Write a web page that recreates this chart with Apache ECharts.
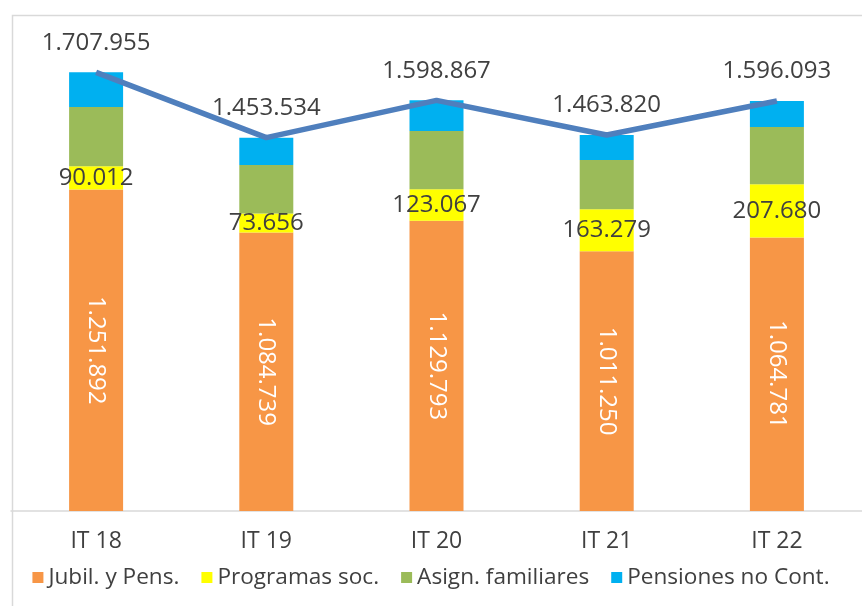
<!DOCTYPE html>
<html>
<head>
<meta charset="utf-8">
<script src="https://cdn.jsdelivr.net/npm/echarts@6/dist/echarts.min.js"></script>
<style>
  html, body { margin: 0; padding: 0; background: #fff; }
  #chart { width: 862px; height: 606px; }
</style>
</head>
<body>
<div id="chart"></div>
<script>
// datos
var categorias = ['IT 18', 'IT 19', 'IT 20', 'IT 21', 'IT 22'];
var jubilaciones = [1251892, 1084739, 1129793, 1011250, 1064781];
var programas = [90012, 73656, 123067, 163279, 207680];
var asignaciones = [230900, 188600, 226500, 191900, 222500];
var pensionesNC = [135150, 106500, 119500, 97400, 101100];
var totales = [1707955, 1453534, 1598867, 1463820, 1596093];

var fuente = 'Open Sans';
var colorTexto = '#404040';

// separador de miles con punto
function miles(v) {
    return String(Math.round(v)).replace(/\B(?=(\d{3})+(?!\d))/g, '.');
}

var chart = echarts.init(document.getElementById('chart'));

var option = {
    animation: false,
    textStyle: { fontFamily: fuente },
    graphic: [{
        type: 'rect',
        left: 10, top: 13,
        shape: { width: 880, height: 640 },
        style: { fill: 'none', stroke: '#d9d9d9', lineWidth: 1.5 },
        silent: true
    }],
    grid: { left: 11, right: -4, top: 23, bottom: 95 },
    legend: {
        bottom: 12,
        left: 'center',
        itemWidth: 11,
        itemHeight: 11,
        itemGap: 22,
        icon: 'rect',
        textStyle: { fontFamily: fuente, fontSize: 22.6, color: colorTexto },
        data: ['Jubil. y Pens.', 'Programas soc.', 'Asign. familiares', 'Pensiones no Cont.']
    },
    xAxis: {
        type: 'category',
        data: categorias,
        axisLine: { lineStyle: { color: '#d9d9d9', width: 1.5 } },
        axisTick: { show: false },
        axisLabel: { fontFamily: fuente, fontSize: 23, color: colorTexto, margin: 19 }
    },
    yAxis: {
        type: 'value',
        min: 0,
        max: 1900000,
        show: false,
        splitLine: { show: false }
    },
    series: [{
        name: 'Jubil. y Pens.',
        type: 'bar',
        stack: 'total',
        barWidth: 54,
        data: jubilaciones,
        itemStyle: { color: '#F79646' },
        label: {
            show: true,
            position: 'inside',
            rotate: -90,
            color: '#ffffff',
            fontFamily: fuente,
            fontSize: 24,
            formatter: function(p) { return miles(p.value); }
        }
    }, {
        name: 'Programas soc.',
        type: 'bar',
        stack: 'total',
        data: programas,
        itemStyle: { color: '#FFFF00' },
        label: {
            show: true,
            position: 'inside',
            color: colorTexto,
            fontFamily: fuente,
            fontSize: 24,
            formatter: function(p) { return miles(p.value); }
        }
    }, {
        name: 'Asign. familiares',
        type: 'bar',
        stack: 'total',
        data: asignaciones,
        itemStyle: { color: '#9BBB59' }
    }, {
        name: 'Pensiones no Cont.',
        type: 'bar',
        stack: 'total',
        data: pensionesNC,
        itemStyle: { color: '#00B0F0' }
    }, {
        name: 'Total',
        type: 'line',
        data: totales,
        symbol: 'circle',
        symbolSize: 1,
        itemStyle: { color: '#4F7FBD' },
        z: 10,
        lineStyle: { color: '#4F7FBD', width: 5.5 },
        label: {
            show: true,
            position: 'top',
            distance: 17,
            color: colorTexto,
            fontFamily: fuente,
            fontSize: 24,
            formatter: function(p) { return miles(p.value); }
        }
    }]
};

chart.setOption(option);
</script>
</body>
</html>
